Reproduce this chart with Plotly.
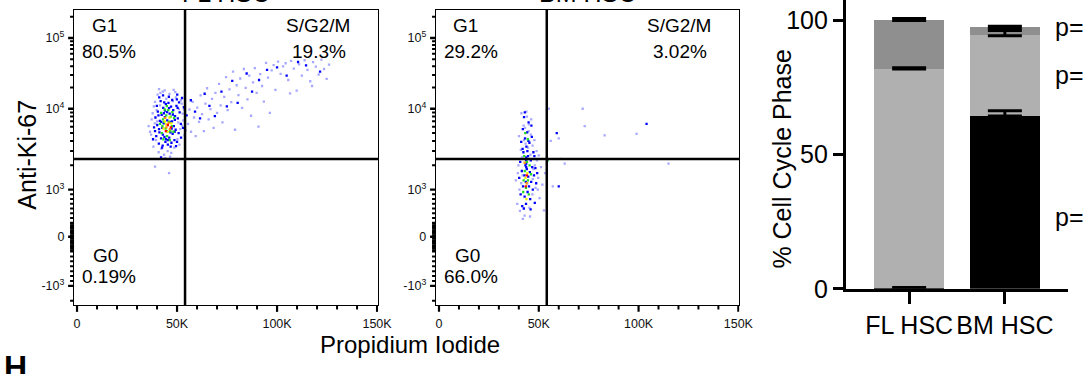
import numpy as np
import plotly.graph_objects as go

W, H = 1086, 374
FONT = "Liberation Sans, Arial, Helvetica, sans-serif"

# ---------------- data: flow panels (PI in thousands, Ki-67 intensity) ----------------
fl_level0 = [(36.5, 5200), (37.8, 8800), (38.2, 3400), (39.0, 12500), (39.5, 4100), (40.3, 15800),
             (40.8, 2900), (41.5, 11200), (42.2, 3200), (42.9, 17500), (43.5, 2700), (44.6, 13800),
             (45.3, 3000), (46.2, 16200), (47.1, 2850), (47.9, 12800), (48.6, 3300), (49.4, 14500),
             (50.2, 4200), (50.9, 9900), (51.6, 5600), (52.3, 11800), (53.1, 7200), (53.7, 4700),
             (38.9, 6600), (37.3, 7400), (52.8, 8700), (51.2, 3600), (41.0, 19000), (48.3, 18500),
             (44.0, 2450), (46.5, 2550), (39.8, 9600), (50.6, 6800), (35.8, 6100), (39.0, 1930),
             (46.0, 1600),
             (55.5, 6500), (56.2, 9800), (57.0, 5200), (57.8, 12500), (58.5, 7800), (59.3, 4600),
             (60.1, 10400), (61.0, 6900), (61.8, 15500), (62.5, 8600), (63.4, 5300), (64.2, 11800),
             (65.0, 19500), (65.8, 7400), (66.7, 9900), (67.5, 13800), (68.3, 5800), (69.2, 16800),
             (70.0, 8900), (71.0, 22500), (71.8, 11200), (72.7, 6800), (73.6, 14700), (74.5, 28000),
             (75.3, 9600), (76.2, 18800), (77.1, 12400), (78.0, 33500), (79.0, 5500), (79.8, 21500),
             (80.7, 15600), (81.6, 26800), (82.5, 10300), (83.4, 36500), (84.3, 19800), (85.2, 13600),
             (86.1, 29500), (87.0, 8200), (88.0, 23600), (88.9, 37500), (89.8, 16800), (90.7, 6000),
             (91.6, 30800), (92.5, 21000), (93.4, 12600), (94.5, 44500), (95.5, 27500), (96.4, 8900),
             (97.3, 34800), (98.3, 41500), (99.2, 18500), (100.5, 46500), (101.8, 31200), (103.0, 39800),
             (104.3, 44000), (105.6, 25500), (107.0, 47500), (108.4, 37000), (109.8, 18000), (111.0, 42500),
             (112.4, 29500), (113.8, 48500), (115.2, 35500), (116.6, 24500), (118.0, 45500), (119.4, 39500),
             (120.8, 30500), (122.2, 49500), (123.5, 36500), (124.8, 26500), (126.0, 42000), (117.5, 21000),
             (106.5, 16500), (40.0, 7000), (41.7, 16800), (43.8, 18200), (49.1, 17200), (51.9, 13200),
             (53.5, 9800), (37.0, 4800), (38.4, 10800), (52.4, 6200), (54.3, 5400)]
fl_level1 = [(38.5, 5900), (39.2, 7800), (39.6, 4600), (40.1, 6300), (40.4, 9200), (40.9, 3700),
             (41.2, 5100), (41.4, 7100), (41.8, 12800), (42.0, 4300), (42.3, 8400), (42.6, 5800),
             (42.8, 3500), (43.1, 10300), (43.3, 6600), (43.7, 4500), (43.9, 7900), (44.2, 3900),
             (44.4, 11600), (44.8, 5300), (45.0, 9100), (45.4, 3600), (45.7, 12100), (46.1, 4400),
             (46.3, 8700), (46.7, 5100), (47.0, 10700), (47.2, 3800), (47.5, 7000), (47.8, 4900),
             (48.1, 9600), (48.4, 6100), (48.7, 4100), (49.0, 8100), (49.3, 5500), (49.7, 11000),
             (50.0, 3900), (50.4, 7600), (50.8, 5000), (51.3, 9000), (51.9, 6500), (52.5, 14200),
             (53.0, 5800), (53.4, 10500), (39.9, 11000), (41.1, 14500), (43.0, 15500), (45.9, 14800),
             (47.6, 13300), (49.9, 13600), (38.0, 4200), (42.5, 3300), (46.8, 3400), (49.5, 3450),
             (43.4, 8800), (45.1, 7200), (46.5, 6900), (47.3, 5700), (44.5, 4200), (42.1, 6900),
             (48.9, 7300), (40.7, 8300), (52.0, 4400), (51.0, 12300), (50.1, 15800), (42.0, 2500),
             (41.0, 5600), (42.9, 4800), (44.0, 9500), (45.5, 4100), (47.9, 8500), (48.8, 5200),
             (50.3, 10300), (39.0, 5300), (46.0, 10200), (43.6, 12300),
             (54.8, 8300), (56.9, 13200), (59.0, 9200), (61.5, 7600), (63.8, 16300), (66.2, 11000),
             (68.9, 8100), (72.2, 17500), (74.9, 10800), (77.6, 24800), (80.3, 12100), (84.8, 31500),
             (87.5, 17500), (91.0, 25500), (95.0, 35500), (100.0, 38500), (104.8, 29500), (110.5, 45800),
             (114.5, 41000), (121.5, 33500)]
fl_level2 = [(41.5, 6500), (42.0, 8900), (42.4, 5000), (43.0, 7400), (43.2, 4200), (43.8, 9800),
             (44.3, 5700), (44.6, 8300), (45.0, 4600), (45.6, 9600), (46.0, 6900), (46.4, 4100),
             (46.8, 8000), (47.4, 6100), (47.7, 9100), (48.2, 5200), (48.5, 7700), (42.7, 6100),
             (44.9, 10900), (46.6, 5300), (43.5, 6900)]
fl_level3 = [(43.9, 7000), (45.3, 5200), (46.2, 7800), (44.5, 6400), (47.1, 6600), (43.2, 5700)]
fl_level4 = [(44.7, 5900), (45.8, 6700), (46.4, 5600), (44.1, 7700)]
fl_level5 = [(45.4, 6300), (46.9, 5900), (44.4, 5300)]

bm_level0 = [(38.5, 1300), (39.2, 700), (39.8, 2000), (40.1, 4600), (40.6, 550), (41.0, 3100),
             (41.3, 8800), (41.9, 1500), (42.4, 6200), (42.9, 450), (43.4, 3700), (43.8, 9200),
             (44.3, 1200), (44.9, 5300), (45.3, 620), (45.8, 2700), (46.2, 7400), (46.8, 900),
             (47.3, 1800), (47.8, 4100), (48.4, 1050), (49.1, 2300), (49.7, 1400), (50.4, 820),
             (51.1, 1900), (51.8, 1150), (52.6, 560), (53.2, 1600), (40.3, 1000), (41.6, 2500),
             (43.1, 5800), (44.6, 3300), (46.0, 4800), (47.0, 1350), (48.9, 3000), (42.0, 380),
             (45.6, 430), (50.0, 2650), (39.5, 1600), (44.0, 8000), (46.9, 3500), (48.0, 2000),
             (49.5, 1000), (41.2, 1200), (45.0, 6400), (42.6, 4100),
             (55.0, 10000), (72.0, 10000), (73.0, 6100), (99.0, 4900), (83.0, 4700), (60.0, 4300),
             (61.0, 2400), (115.0, 2100), (57.0, 1100), (63.0, 2100), (56.0, 4000)]
bm_level1 = [(40.2, 1400), (40.7, 2200), (40.9, 900), (41.2, 3900), (41.5, 1700), (41.7, 650),
             (42.0, 5600), (42.1, 1100), (42.3, 2900), (42.6, 7900), (42.8, 1500), (42.9, 850),
             (43.1, 4300), (43.3, 2000), (43.5, 1250), (43.6, 700), (43.8, 3400), (44.0, 1800),
             (44.2, 5100), (44.4, 950), (44.6, 2600), (44.7, 1450), (44.9, 6800), (45.1, 1100),
             (45.3, 3800), (45.5, 1650), (45.7, 800), (46.0, 2300), (46.2, 1250), (46.5, 4500),
             (46.7, 1900), (47.0, 1000), (47.3, 2900), (47.6, 1500), (48.0, 720), (48.3, 1850),
             (48.7, 1200), (49.2, 1600), (43.7, 2500), (43.7, 2300), (43.7, 2100), (43.7, 1900),
             (41.9, 3200), (44.8, 4000), (46.3, 6200), (42.5, 600), (45.9, 580), (47.8, 2600),
             (43.0, 9000), (44.3, 3000),
             (104.0, 6500), (59.0, 5000), (60.0, 1100)]
bm_level2 = [(42.4, 1300), (43.0, 1700), (43.6, 1050), (44.1, 2200), (44.6, 1300), (45.0, 900),
             (42.7, 2600), (45.4, 2000), (44.5, 4200), (43.2, 5000), (46.1, 1550), (42.2, 950),
             (54.5, 2300)]
bm_level3 = [(43.3, 1400), (44.3, 1600), (43.8, 800)]
bm_level4 = [(43.9, 1200), (42.9, 2150)]
bm_level5 = [(43.5, 1100), (44.0, 1500)]

pi_gate = 54       # thousands
ki_gate = 2400
fl_quadrant_pct = ["80.5%", "19.3%", "0.19%"]   # G1, S/G2/M, G0
bm_quadrant_pct = ["29.2%", "3.02%", "66.0%"]

# ---------------- data: stacked bars ----------------
bar_categories = ["FL HSC", "BM HSC"]
g0_mean = [0.3, 64.5]
g0_err = [0.2, 1.8]
g1_mean = [81.7, 29.8]
g1_err = [0.3, 1.8]
sg2m_mean = [18.0, 3.0]
sg2m_err = [0.6, 0.4]

# ---------------- biexponential (logicle-like) display scale ----------------
KI_T = [-2, -1, 0, 1, 2, 3, 4]
KI_U = [-31, 20, 71, 120, 204, 277.5, 351]


def ki_scale(v):
    v = np.asarray(v, dtype=float)
    a = np.abs(v)
    t = np.where(a <= 1000, v / 1000.0, np.sign(v) * (1 + np.log10(np.maximum(a, 1e-9) / 1000.0)))
    return np.interp(t, KI_T, KI_U)


LEVEL_COLORS = ["#a8a8ff", "#0000ff", "#22dd22", "#f0f000", "#ff9900", "#ff0000"]

fig = go.Figure()


def add_flow(levels, xa, ya):
    for lvl, pts in enumerate(levels):
        pi = [p[0] for p in pts]
        ki = [p[1] for p in pts]
        fig.add_trace(go.Scatter(x=pi, y=ki_scale(ki), mode="markers", xaxis=xa, yaxis=ya,
                                 marker=dict(symbol="square", size=2.3, color=LEVEL_COLORS[lvl],
                                             line=dict(width=0)),
                                 showlegend=False, hoverinfo="skip"))


add_flow([fl_level0, fl_level1, fl_level2, fl_level3, fl_level4, fl_level5], "x", "y")
add_flow([bm_level0, bm_level1, bm_level2, bm_level3, bm_level4, bm_level5], "x2", "y2")

# stacked bars
for mean, col in [(g0_mean, "#000000"), (g1_mean, "#b0b0b0"), (sg2m_mean, "#8f8f8f")]:
    fig.add_trace(go.Bar(x=bar_categories, y=mean, xaxis="x3", yaxis="y3", width=0.727,
                         marker=dict(color=col, line=dict(width=0)),
                         showlegend=False, hoverinfo="skip"))

# error bars at the top of each stacked segment
cum = np.zeros(len(bar_categories))
for mean, err in [(g0_mean, g0_err), (g1_mean, g1_err), (sg2m_mean, sg2m_err)]:
    cum = cum + np.asarray(mean)
    fig.add_trace(go.Scatter(x=bar_categories, y=cum.copy(), mode="markers", xaxis="x3", yaxis="y3",
                             marker=dict(size=1, color="rgba(0,0,0,0)"),
                             error_y=dict(type="data", array=err, arrayminus=[0.15] * len(err),
                                          symmetric=False, color="black", thickness=3, width=17),
                             showlegend=False, hoverinfo="skip"))

# ---------------- axes ----------------
y_top_px, y_bot_px = 10.5, 317
ydom = [(H - y_bot_px) / H, (H - y_top_px) / H]
yrange = [0, y_bot_px - y_top_px]
xrange_ = [-1.5, 150.5]
xdom1 = [75 / W, 383 / W]
xdom2 = [441.7 / W, 749 / W]

major_ki = [-1000, 0, 1000, 10000, 100000]
major_ki_text = ["-10<sup>3</sup>", "0", "10<sup>3</sup>", "10<sup>4</sup>", "10<sup>5</sup>"]
minor_ki = ([m * 1000 for m in range(2, 10)] + [m * 10000 for m in range(2, 10)] + [200000, -2000]
            + [s * m * 100 for s in (1, -1) for m in range(1, 10)]
            + [v for v in range(-280, 281, 35)])

pi_major = [0, 50, 100, 150]
pi_major_text = ["0", "50K", "100K", "150K"]
pi_minor = [v for v in range(10, 150, 10) if v % 50]

TF = dict(family=FONT, size=12.5, color="#111")
HIDDEN = "rgba(0,0,0,0)"
common_x = dict(range=xrange_, showline=True, mirror=True, linecolor="black", linewidth=1.4,
                ticks="outside", tickmode="array", tickvals=pi_major, ticktext=pi_major_text,
                ticklen=7, tickwidth=2.2, tickcolor=HIDDEN,
                showgrid=False, zeroline=False, tickfont=TF, fixedrange=True)
common_y = dict(domain=ydom, range=yrange, showline=True, mirror=True, linecolor="black", linewidth=1.4,
                ticks="outside", tickmode="array", tickvals=list(ki_scale(major_ki)), ticktext=major_ki_text,
                ticklen=6, tickwidth=2.4, tickcolor=HIDDEN,
                showgrid=False, zeroline=False, tickfont=TF, fixedrange=True)

fig.update_layout(
    xaxis=dict(domain=xdom1, anchor="y", **common_x),
    yaxis=dict(anchor="x", **common_y),
    xaxis2=dict(domain=xdom2, anchor="y2", **common_x),
    yaxis2=dict(anchor="x2", **common_y),
    xaxis3=dict(domain=[856.7 / W, 1082 / W], anchor="y3", type="category", range=[-0.663, 1.66],
                showline=True, linecolor="black", linewidth=2.5, ticks="outside", ticklen=12, tickwidth=2.5,
                tickcolor="black", showgrid=False, zeroline=False,
                tickfont=dict(family=FONT, size=25, color="black"), fixedrange=True),
    yaxis3=dict(domain=[(H - 300) / H, 1.0], anchor="x3", range=[0, 107.5], showline=True, linecolor="black",
                linewidth=2.5, ticks="outside", ticklen=10, tickwidth=2.5, tickcolor="black",
                tickmode="array", tickvals=[0, 50, 100], showgrid=False, zeroline=False,
                tickfont=dict(family=FONT, size=25, color="black"), fixedrange=True),
    barmode="stack",
    width=W, height=H, margin=dict(l=0, r=0, t=0, b=0),
    paper_bgcolor="white", plot_bgcolor="white",
    font=dict(family=FONT, color="black"),
)

# tick marks of the flow panels (major and minor), drawn on the axes' own scales
for xa, ya, xd in [("x", "y", xdom1), ("x2", "y2", xdom2)]:
    for vals, ln, wd in [(pi_major, 7, 2.2), (pi_minor, 4.5, 2)]:
        for v in vals:
            fig.add_shape(type="line", xref=xa, yref="paper", x0=v, x1=v, y0=ydom[0], y1=ydom[0] - ln / H,
                          line=dict(color="black", width=wd))
    for vals, ln, wd in [(major_ki, 6, 2.4), (minor_ki, 4, 2)]:
        for u in ki_scale(vals):
            fig.add_shape(type="line", xref="paper", yref=ya, x0=xd[0], x1=xd[0] - ln / W,
                          y0=float(u), y1=float(u), line=dict(color="black", width=wd))

# gates
for xa, ya in [("x", "y"), ("x2", "y2")]:
    fig.add_shape(type="line", xref=xa, yref=ya, x0=pi_gate, x1=pi_gate, y0=yrange[0], y1=yrange[1],
                  line=dict(color="black", width=2.5))
    gy = float(ki_scale(ki_gate))
    fig.add_shape(type="line", xref=xa, yref=ya, x0=xrange_[0], x1=xrange_[1], y0=gy, y1=gy,
                  line=dict(color="black", width=2.5))

# quadrant labels
QF = dict(family=FONT, size=19, color="black")
for xa, ya, pct in [("x", "y", fl_quadrant_pct), ("x2", "y2", bm_quadrant_pct)]:
    labels = [("G1", 13.5, 290), (pct[0], 15.8, 264), ("S/G2/M", 120.5, 290), (pct[1], 121, 264),
              ("G0", 14.3, 52), (pct[2], 16.0, 30)]
    for txt, xv, yv in labels:
        fig.add_annotation(text=txt, x=xv, y=yv, xref=xa, yref=ya, showarrow=False, font=QF,
                           xanchor="center", yanchor="middle")

# titles (clipped at the top of the page)
for txt, cx in [("FL HSC", 229 / W), ("BM HSC", 595 / W)]:
    fig.add_annotation(text=txt, x=cx, y=(H - 9) / H, xref="paper", yref="paper", showarrow=False,
                       font=dict(family=FONT, size=25, color="black"), xanchor="center", yanchor="bottom")

fig.add_annotation(text="Anti-Ki-67", x=27 / W, y=(H - 161) / H, xref="paper", yref="paper", textangle=-90,
                   showarrow=False, font=dict(family=FONT, size=25, color="black"),
                   xanchor="center", yanchor="middle")
fig.add_annotation(text="Propidium Iodide", x=415 / W, y=(H - 358) / H, xref="paper", yref="paper",
                   showarrow=False, font=dict(family=FONT, size=24, color="black"),
                   xanchor="center", yanchor="middle")
fig.add_annotation(text="% Cell Cycle Phase", x=792 / W, y=(H - 165) / H, xref="paper", yref="paper",
                   textangle=-90, showarrow=False, font=dict(family=FONT, size=25, color="black"),
                   xanchor="center", yanchor="middle")
for py in [28, 78, 225]:
    fig.add_annotation(text="p=", x=1067 / W, y=(H - py) / H, xref="paper", yref="paper", showarrow=False,
                       font=dict(family=FONT, size=25, color="black"), xanchor="left", yanchor="middle")
fig.add_annotation(text="<b>H</b>", x=2 / W, y=(H - 360) / H, xref="paper", yref="paper", showarrow=False,
                   font=dict(family=FONT, size=32, color="black"), xanchor="left", yanchor="top")

fig.write_html("out.html")
